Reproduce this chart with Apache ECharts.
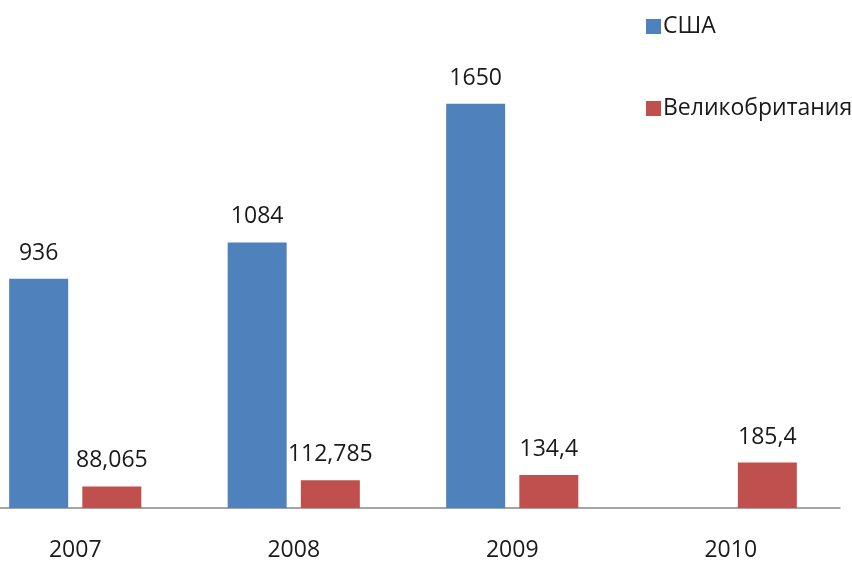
<!DOCTYPE html>
<html>
<head>
<meta charset="utf-8">
<script src="https://cdn.jsdelivr.net/npm/echarts@6/dist/echarts.min.js"></script>
<style>html,body{margin:0;padding:0;background:#fff;overflow:hidden;width:852px;height:562px}#c{width:886px;height:562px;margin-left:-34px}</style>
</head>
<body>
<div id="c"></div>
<script>
const categories = ['2007', '2008', '2009', '2010'];
const usaValues = [936, 1084, 1650, null];
const ukValues = [88.065, 112.785, 134.4, 185.4];
const seriesNames = ['США', 'Великобритания'];

const fmt = p => p.value == null ? '' : String(p.value).replace('.', ',');
const font = '"Open Sans", "Liberation Sans", sans-serif';
const chart = echarts.init(document.getElementById('c'));
const labelCfg = { show: true, position: 'top', distance: 14, formatter: fmt, fontSize: 23, fontFamily: font, color: '#1a1a1a' };
chart.setOption({
  animation: false,
  textStyle: { fontFamily: font },
  legend: {
    orient: 'vertical', left: 675, top: 10, itemWidth: 15, itemHeight: 15, itemGap: 59,
    icon: 'rect',
    textStyle: { fontSize: 23, fontFamily: font, color: '#1a1a1a', padding: [0, 0, 0, -3] },
    data: seriesNames
  },
  grid: { left: 0, right: 12, top: 67, bottom: 53, containLabel: false },
  xAxis: {
    type: 'category', data: categories,
    axisLine: { lineStyle: { color: '#868686', width: 1.5 } },
    axisTick: { show: false },
    axisLabel: { fontSize: 23, fontFamily: font, color: '#1a1a1a', margin: 31 }
  },
  yAxis: { type: 'value', min: 0, max: 1800, show: false, splitLine: { show: false } },
  series: [
    { name: seriesNames[0], type: 'bar', data: usaValues, barWidth: 59, barGap: '24%', itemStyle: { color: '#4F81BD' }, label: labelCfg },
    { name: seriesNames[1], type: 'bar', data: ukValues, barWidth: 59, barGap: '24%', itemStyle: { color: '#C0504D' }, label: labelCfg }
  ]
});
</script>
</body>
</html>
